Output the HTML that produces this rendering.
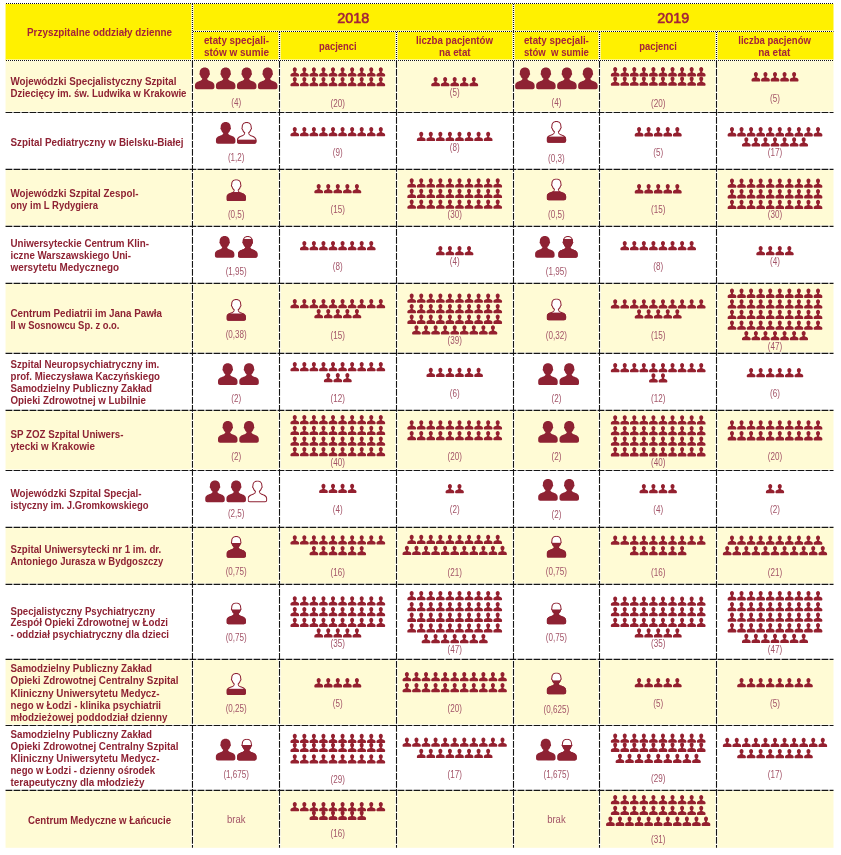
<!DOCTYPE html>
<html lang="pl"><head><meta charset="utf-8"><title>Przyszpitalne oddziały dzienne</title>
<style>html,body{margin:0;padding:0;background:#fff}body{width:841px;height:855px;overflow:hidden}svg{display:block}text{font-family:"Liberation Sans",sans-serif}.rl{font-size:11.3px;font-weight:bold;fill:#8e2233}.hd{font-size:11.2px;font-weight:bold;fill:#a3233a}.yr{font-size:14px;fill:#a3233a;stroke:#a3233a;stroke-width:0.55px}.lb{font-size:10px;fill:#a35468}.w{stroke:#fff;stroke-width:2.2;fill:none}.wh{stroke:#fff;stroke-width:1.6;fill:none}.d{stroke:#151515;stroke-width:1.1;stroke-dasharray:6.8 1.2;fill:none}.t{stroke:#111;stroke-width:1.1;stroke-dasharray:1 1;fill:none}</style></head><body>
<svg width="841" height="855" viewBox="0 0 841 855">
<defs><path id="p" d="M9.65 0C12.8 0 14.6 2.3 14.6 5.2C14.6 5.8 14.9 5.9 14.9 6.6C14.9 7.3 14.4 7.5 14.2 7.8C13.8 9.3 13 10.4 12.1 11.2C12.1 12.3 12.6 12.9 14 13.4C16.5 14.3 19.3 15.2 19.3 18.2L19.3 20.1C19.3 21.3 18.4 22.1 17.3 22.1L2 22.1C0.9 22.1 0 21.3 0 20.1L0 18.2C0 15.2 2.8 14.3 5.3 13.4C6.7 12.9 7.2 12.3 7.2 11.2C6.3 10.4 5.5 9.3 5.1 7.8C4.9 7.5 4.4 7.3 4.4 6.6C4.4 5.9 4.7 5.8 4.7 5.2C4.7 2.3 6.5 0 9.65 0Z"/><clipPath id="pc"><use href="#p"/></clipPath>
<path id="s" fill="#94202f" d="M4.35 0C5.5 0 6.35 0.95 6.35 2.25C6.35 3.3 5.85 4.1 5.3 4.6C5.3 5.25 5.65 5.5 6.4 5.75C7.65 6.2 8.7 6.7 8.7 7.9L8.7 8.6C8.7 9 8.4 9.3 8 9.3L0.7 9.3C0.3 9.3 0 9 0 8.6L0 7.9C0 6.7 1.05 6.2 2.3 5.75C3.05 5.5 3.4 5.25 3.4 4.6C2.85 4.1 2.35 3.3 2.35 2.25C2.35 0.95 3.2 0 4.35 0Z"/>
<g id="b" fill="#8e2233"><use href="#p" transform="scale(1.0104 0.9864)"/></g></defs>
<rect x="5.55" y="3.9" width="827.95" height="56.6" fill="#fff100"/>
<rect x="5.55" y="60.5" width="827.95" height="51.95" fill="#fffbd5"/>
<rect x="5.55" y="169.42" width="827.95" height="57" fill="#fffbd5"/>
<rect x="5.55" y="283.42" width="827.95" height="70" fill="#fffbd5"/>
<rect x="5.55" y="410.42" width="827.95" height="60.13" fill="#fffbd5"/>
<rect x="5.55" y="527.42" width="827.95" height="57" fill="#fffbd5"/>
<rect x="5.55" y="659.42" width="827.95" height="66.06" fill="#fffbd5"/>
<rect x="5.55" y="790.42" width="827.95" height="57.38" fill="#fffbd5"/>
<path class="w" d="M192.47 4V60 M513.5 4V60 M279.5 32V60 M396.5 32V60 M599.5 32V60 M716.5 32V60 M192.47 61V847.8 M279.5 61V847.8 M396.5 61V847.8 M513.5 61V847.8 M599.5 61V847.8 M716.5 61V847.8"/><path class="wh" transform="translate(0 -0.2)" d="M6 3.45H833.5 M193 31.45H833.5 M6 60.5H833.5 M5.55 112.45H833.5 M5.55 169.42H833.5 M5.55 226.42H833.5 M5.55 283.42H833.5 M5.55 353.42H833.5 M5.55 410.42H833.5 M5.55 470.55H833.5 M5.55 527.42H833.5 M5.55 584.42H833.5 M5.55 659.42H833.5 M5.55 725.48H833.5 M5.55 790.42H833.5"/>
<path class="t" d="M6 3.45H833.5 M193 31.45H833.5 M6 60.5H833.5"/><path class="t" d="M192.47 4V60 M513.5 4V60 M279.5 32V60 M396.5 32V60 M599.5 32V60 M716.5 32V60"/>
<path class="d" d="M5.55 112.45H833.5 M5.55 169.42H833.5 M5.55 226.42H833.5 M5.55 283.42H833.5 M5.55 353.42H833.5 M5.55 410.42H833.5 M5.55 470.55H833.5 M5.55 527.42H833.5 M5.55 584.42H833.5 M5.55 659.42H833.5 M5.55 725.48H833.5 M5.55 790.42H833.5"/><path class="d" d="M192.47 61V847.8 M279.5 61V847.8 M396.5 61V847.8 M513.5 61V847.8 M599.5 61V847.8 M716.5 61V847.8"/>
<text class="hd" style="font-size:11.8px" x="27" y="36.1" textLength="145" lengthAdjust="spacingAndGlyphs">Przyszpitalne oddziały dzienne</text>
<text class="yr" x="337.3" y="22.5" textLength="32" lengthAdjust="spacingAndGlyphs">2018</text>
<text class="yr" x="657.3" y="22.5" textLength="31.9" lengthAdjust="spacingAndGlyphs">2019</text>
<text class="hd" x="203.9" y="44" textLength="65.1" lengthAdjust="spacingAndGlyphs">etaty specjali-</text>
<text class="hd" x="203.9" y="55.6" textLength="65.1" lengthAdjust="spacingAndGlyphs">stów w sumie</text>
<text class="hd" x="319" y="49.7" textLength="37.5" lengthAdjust="spacingAndGlyphs">pacjenci</text>
<text class="hd" x="416" y="43.7" textLength="77" lengthAdjust="spacingAndGlyphs">liczba pacjentów</text>
<text class="hd" x="439" y="55.5" textLength="31.6" lengthAdjust="spacingAndGlyphs">na etat</text>
<text class="hd" x="523.9" y="44" textLength="65" lengthAdjust="spacingAndGlyphs">etaty specjali-</text>
<text class="hd" x="523.9" y="55.6" textLength="65" lengthAdjust="spacingAndGlyphs">stów  w sumie</text>
<text class="hd" x="639.2" y="49.7" textLength="37.7" lengthAdjust="spacingAndGlyphs">pacjenci</text>
<text class="hd" x="738.3" y="43.7" textLength="72.6" lengthAdjust="spacingAndGlyphs">liczba pacjenów</text>
<text class="hd" x="758.2" y="55.5" textLength="32.2" lengthAdjust="spacingAndGlyphs">na etat</text>
<text class="rl" x="10.5" y="85.35" textLength="166" lengthAdjust="spacingAndGlyphs">Wojewódzki Specjalistyczny Szpital</text>
<text class="rl" x="10.5" y="97.35" textLength="176" lengthAdjust="spacingAndGlyphs">Dziecięcy im. św. Ludwika w Krakowie</text>
<use href="#b" x="194.95" y="67.5"/>
<use href="#b" x="215.95" y="67.5"/>
<use href="#b" x="236.95" y="67.5"/>
<use href="#b" x="257.95" y="67.5"/>
<text class="lb" text-anchor="middle" transform="translate(236.2 106) scale(0.81 1)">(4)</text>
<use href="#s" x="290.43" y="67.2"/>
<use href="#s" x="299.99" y="67.2"/>
<use href="#s" x="309.55" y="67.2"/>
<use href="#s" x="319.11" y="67.2"/>
<use href="#s" x="328.67" y="67.2"/>
<use href="#s" x="338.23" y="67.2"/>
<use href="#s" x="347.79" y="67.2"/>
<use href="#s" x="357.35" y="67.2"/>
<use href="#s" x="366.91" y="67.2"/>
<use href="#s" x="376.47" y="67.2"/>
<use href="#s" x="290.43" y="77"/>
<use href="#s" x="299.99" y="77"/>
<use href="#s" x="309.55" y="77"/>
<use href="#s" x="319.11" y="77"/>
<use href="#s" x="328.67" y="77"/>
<use href="#s" x="338.23" y="77"/>
<use href="#s" x="347.79" y="77"/>
<use href="#s" x="357.35" y="77"/>
<use href="#s" x="366.91" y="77"/>
<use href="#s" x="376.47" y="77"/>
<text class="lb" text-anchor="middle" transform="translate(337.8 106.8) scale(0.81 1)">(20)</text>
<use href="#s" x="431.23" y="77"/>
<use href="#s" x="440.79" y="77"/>
<use href="#s" x="450.35" y="77"/>
<use href="#s" x="459.91" y="77"/>
<use href="#s" x="469.47" y="77"/>
<text class="lb" text-anchor="middle" transform="translate(454.7 95.8) scale(0.81 1)">(5)</text>
<use href="#b" x="515.15" y="67.5"/>
<use href="#b" x="536.15" y="67.5"/>
<use href="#b" x="557.15" y="67.5"/>
<use href="#b" x="578.15" y="67.5"/>
<text class="lb" text-anchor="middle" transform="translate(556.4 105.8) scale(0.81 1)">(4)</text>
<use href="#s" x="610.83" y="67.1"/>
<use href="#s" x="620.39" y="67.1"/>
<use href="#s" x="629.95" y="67.1"/>
<use href="#s" x="639.51" y="67.1"/>
<use href="#s" x="649.07" y="67.1"/>
<use href="#s" x="658.63" y="67.1"/>
<use href="#s" x="668.19" y="67.1"/>
<use href="#s" x="677.75" y="67.1"/>
<use href="#s" x="687.31" y="67.1"/>
<use href="#s" x="696.87" y="67.1"/>
<use href="#s" x="610.83" y="76.5"/>
<use href="#s" x="620.39" y="76.5"/>
<use href="#s" x="629.95" y="76.5"/>
<use href="#s" x="639.51" y="76.5"/>
<use href="#s" x="649.07" y="76.5"/>
<use href="#s" x="658.63" y="76.5"/>
<use href="#s" x="668.19" y="76.5"/>
<use href="#s" x="677.75" y="76.5"/>
<use href="#s" x="687.31" y="76.5"/>
<use href="#s" x="696.87" y="76.5"/>
<text class="lb" text-anchor="middle" transform="translate(658.2 106.7) scale(0.81 1)">(20)</text>
<use href="#s" x="751.53" y="72.1"/>
<use href="#s" x="761.09" y="72.1"/>
<use href="#s" x="770.65" y="72.1"/>
<use href="#s" x="780.21" y="72.1"/>
<use href="#s" x="789.77" y="72.1"/>
<text class="lb" text-anchor="middle" transform="translate(775 102) scale(0.81 1)">(5)</text>
<text class="rl" x="10.5" y="145.65" textLength="173" lengthAdjust="spacingAndGlyphs">Szpital Pediatryczny w Bielsku-Białej</text>
<use href="#b" x="215.95" y="122"/>
<g transform="translate(236.95 122) scale(1.0104 0.9864)" clip-path="url(#pc)"><use href="#p" fill="#fff"/><rect x="-1" y="17.9" width="22" height="5.2" fill="#8e2233"/><use href="#p" fill="none" stroke="#8e2233" stroke-width="2"/></g>
<text class="lb" text-anchor="middle" transform="translate(236.2 161) scale(0.81 1)">(1,2)</text>
<use href="#s" x="290.43" y="127"/>
<use href="#s" x="299.99" y="127"/>
<use href="#s" x="309.55" y="127"/>
<use href="#s" x="319.11" y="127"/>
<use href="#s" x="328.67" y="127"/>
<use href="#s" x="338.23" y="127"/>
<use href="#s" x="347.79" y="127"/>
<use href="#s" x="357.35" y="127"/>
<use href="#s" x="366.91" y="127"/>
<use href="#s" x="376.47" y="127"/>
<text class="lb" text-anchor="middle" transform="translate(337.8 156) scale(0.81 1)">(9)</text>
<use href="#s" x="416.89" y="131.8"/>
<use href="#s" x="426.45" y="131.8"/>
<use href="#s" x="436.01" y="131.8"/>
<use href="#s" x="445.57" y="131.8"/>
<use href="#s" x="455.13" y="131.8"/>
<use href="#s" x="464.69" y="131.8"/>
<use href="#s" x="474.25" y="131.8"/>
<use href="#s" x="483.81" y="131.8"/>
<text class="lb" text-anchor="middle" transform="translate(454.7 151.3) scale(0.81 1)">(8)</text>
<g transform="translate(546.65 121) scale(1.0104 0.9864)" clip-path="url(#pc)"><use href="#p" fill="#fff"/><rect x="-1" y="15.8" width="22" height="7.3" fill="#8e2233"/><use href="#p" fill="none" stroke="#8e2233" stroke-width="2"/></g>
<text class="lb" text-anchor="middle" transform="translate(556.4 161.9) scale(0.81 1)">(0,3)</text>
<use href="#s" x="634.73" y="127.1"/>
<use href="#s" x="644.29" y="127.1"/>
<use href="#s" x="653.85" y="127.1"/>
<use href="#s" x="663.41" y="127.1"/>
<use href="#s" x="672.97" y="127.1"/>
<text class="lb" text-anchor="middle" transform="translate(658.2 155.8) scale(0.81 1)">(5)</text>
<use href="#s" x="727.63" y="127.1"/>
<use href="#s" x="737.19" y="127.1"/>
<use href="#s" x="746.75" y="127.1"/>
<use href="#s" x="756.31" y="127.1"/>
<use href="#s" x="765.87" y="127.1"/>
<use href="#s" x="775.43" y="127.1"/>
<use href="#s" x="784.99" y="127.1"/>
<use href="#s" x="794.55" y="127.1"/>
<use href="#s" x="804.11" y="127.1"/>
<use href="#s" x="813.67" y="127.1"/>
<use href="#s" x="741.97" y="137.2"/>
<use href="#s" x="751.53" y="137.2"/>
<use href="#s" x="761.09" y="137.2"/>
<use href="#s" x="770.65" y="137.2"/>
<use href="#s" x="780.21" y="137.2"/>
<use href="#s" x="789.77" y="137.2"/>
<use href="#s" x="799.33" y="137.2"/>
<text class="lb" text-anchor="middle" transform="translate(775 155.8) scale(0.81 1)">(17)</text>
<text class="rl" x="10.5" y="196.65" textLength="127.9" lengthAdjust="spacingAndGlyphs">Wojewódzki Szpital Zespol-</text>
<text class="rl" x="10.5" y="208.65" textLength="87.5" lengthAdjust="spacingAndGlyphs">ony im L Rydygiera</text>
<g transform="translate(226.45 179.3) scale(1.0104 0.9864)" clip-path="url(#pc)"><use href="#p" fill="#fff"/><rect x="-1" y="12.9" width="22" height="10.2" fill="#8e2233"/><use href="#p" fill="none" stroke="#8e2233" stroke-width="2"/></g>
<text class="lb" text-anchor="middle" transform="translate(236.2 218) scale(0.81 1)">(0,5)</text>
<use href="#s" x="314.33" y="184"/>
<use href="#s" x="323.89" y="184"/>
<use href="#s" x="333.45" y="184"/>
<use href="#s" x="343.01" y="184"/>
<use href="#s" x="352.57" y="184"/>
<text class="lb" text-anchor="middle" transform="translate(337.8 213) scale(0.81 1)">(15)</text>
<use href="#s" x="407.33" y="178.3"/>
<use href="#s" x="416.89" y="178.3"/>
<use href="#s" x="426.45" y="178.3"/>
<use href="#s" x="436.01" y="178.3"/>
<use href="#s" x="445.57" y="178.3"/>
<use href="#s" x="455.13" y="178.3"/>
<use href="#s" x="464.69" y="178.3"/>
<use href="#s" x="474.25" y="178.3"/>
<use href="#s" x="483.81" y="178.3"/>
<use href="#s" x="493.37" y="178.3"/>
<use href="#s" x="407.33" y="188.8"/>
<use href="#s" x="416.89" y="188.8"/>
<use href="#s" x="426.45" y="188.8"/>
<use href="#s" x="436.01" y="188.8"/>
<use href="#s" x="445.57" y="188.8"/>
<use href="#s" x="455.13" y="188.8"/>
<use href="#s" x="464.69" y="188.8"/>
<use href="#s" x="474.25" y="188.8"/>
<use href="#s" x="483.81" y="188.8"/>
<use href="#s" x="493.37" y="188.8"/>
<use href="#s" x="407.33" y="199.5"/>
<use href="#s" x="416.89" y="199.5"/>
<use href="#s" x="426.45" y="199.5"/>
<use href="#s" x="436.01" y="199.5"/>
<use href="#s" x="445.57" y="199.5"/>
<use href="#s" x="455.13" y="199.5"/>
<use href="#s" x="464.69" y="199.5"/>
<use href="#s" x="474.25" y="199.5"/>
<use href="#s" x="483.81" y="199.5"/>
<use href="#s" x="493.37" y="199.5"/>
<text class="lb" text-anchor="middle" transform="translate(454.7 217.7) scale(0.81 1)">(30)</text>
<g transform="translate(546.65 178.5) scale(1.0104 0.9864)" clip-path="url(#pc)"><use href="#p" fill="#fff"/><rect x="-1" y="12.9" width="22" height="10.2" fill="#8e2233"/><use href="#p" fill="none" stroke="#8e2233" stroke-width="2"/></g>
<text class="lb" text-anchor="middle" transform="translate(556.4 217.8) scale(0.81 1)">(0,5)</text>
<use href="#s" x="634.73" y="184.1"/>
<use href="#s" x="644.29" y="184.1"/>
<use href="#s" x="653.85" y="184.1"/>
<use href="#s" x="663.41" y="184.1"/>
<use href="#s" x="672.97" y="184.1"/>
<text class="lb" text-anchor="middle" transform="translate(658.2 212.6) scale(0.81 1)">(15)</text>
<use href="#s" x="727.63" y="178.4"/>
<use href="#s" x="737.19" y="178.4"/>
<use href="#s" x="746.75" y="178.4"/>
<use href="#s" x="756.31" y="178.4"/>
<use href="#s" x="765.87" y="178.4"/>
<use href="#s" x="775.43" y="178.4"/>
<use href="#s" x="784.99" y="178.4"/>
<use href="#s" x="794.55" y="178.4"/>
<use href="#s" x="804.11" y="178.4"/>
<use href="#s" x="813.67" y="178.4"/>
<use href="#s" x="727.63" y="189.1"/>
<use href="#s" x="737.19" y="189.1"/>
<use href="#s" x="746.75" y="189.1"/>
<use href="#s" x="756.31" y="189.1"/>
<use href="#s" x="765.87" y="189.1"/>
<use href="#s" x="775.43" y="189.1"/>
<use href="#s" x="784.99" y="189.1"/>
<use href="#s" x="794.55" y="189.1"/>
<use href="#s" x="804.11" y="189.1"/>
<use href="#s" x="813.67" y="189.1"/>
<use href="#s" x="727.63" y="199.8"/>
<use href="#s" x="737.19" y="199.8"/>
<use href="#s" x="746.75" y="199.8"/>
<use href="#s" x="756.31" y="199.8"/>
<use href="#s" x="765.87" y="199.8"/>
<use href="#s" x="775.43" y="199.8"/>
<use href="#s" x="784.99" y="199.8"/>
<use href="#s" x="794.55" y="199.8"/>
<use href="#s" x="804.11" y="199.8"/>
<use href="#s" x="813.67" y="199.8"/>
<text class="lb" text-anchor="middle" transform="translate(775 217.8) scale(0.81 1)">(30)</text>
<text class="rl" x="10.5" y="247.35" textLength="138.5" lengthAdjust="spacingAndGlyphs">Uniwersyteckie Centrum Klin-</text>
<text class="rl" x="10.5" y="259.35" textLength="120.5" lengthAdjust="spacingAndGlyphs">iczne Warszawskiego Uni-</text>
<text class="rl" x="10.5" y="271.35" textLength="108.5" lengthAdjust="spacingAndGlyphs">wersytetu Medycznego</text>
<use href="#b" x="214.9" y="236"/>
<g transform="translate(238 236) scale(1.0104 0.9864)" clip-path="url(#pc)"><use href="#p" fill="#fff"/><rect x="-1" y="3" width="22" height="20.1" fill="#8e2233"/><use href="#p" fill="none" stroke="#8e2233" stroke-width="2"/></g>
<text class="lb" text-anchor="middle" transform="translate(236.2 274.8) scale(0.81 1)">(1,95)</text>
<use href="#s" x="299.99" y="241"/>
<use href="#s" x="309.55" y="241"/>
<use href="#s" x="319.11" y="241"/>
<use href="#s" x="328.67" y="241"/>
<use href="#s" x="338.23" y="241"/>
<use href="#s" x="347.79" y="241"/>
<use href="#s" x="357.35" y="241"/>
<use href="#s" x="366.91" y="241"/>
<text class="lb" text-anchor="middle" transform="translate(337.8 270) scale(0.81 1)">(8)</text>
<use href="#s" x="436.01" y="246"/>
<use href="#s" x="445.57" y="246"/>
<use href="#s" x="455.13" y="246"/>
<use href="#s" x="464.69" y="246"/>
<text class="lb" text-anchor="middle" transform="translate(454.7 265) scale(0.81 1)">(4)</text>
<use href="#b" x="535.1" y="236"/>
<g transform="translate(558.2 236) scale(1.0104 0.9864)" clip-path="url(#pc)"><use href="#p" fill="#fff"/><rect x="-1" y="3" width="22" height="20.1" fill="#8e2233"/><use href="#p" fill="none" stroke="#8e2233" stroke-width="2"/></g>
<text class="lb" text-anchor="middle" transform="translate(556.4 274.8) scale(0.81 1)">(1,95)</text>
<use href="#s" x="620.39" y="241"/>
<use href="#s" x="629.95" y="241"/>
<use href="#s" x="639.51" y="241"/>
<use href="#s" x="649.07" y="241"/>
<use href="#s" x="658.63" y="241"/>
<use href="#s" x="668.19" y="241"/>
<use href="#s" x="677.75" y="241"/>
<use href="#s" x="687.31" y="241"/>
<text class="lb" text-anchor="middle" transform="translate(658.2 269.7) scale(0.81 1)">(8)</text>
<use href="#s" x="756.31" y="246"/>
<use href="#s" x="765.87" y="246"/>
<use href="#s" x="775.43" y="246"/>
<use href="#s" x="784.99" y="246"/>
<text class="lb" text-anchor="middle" transform="translate(775 264.7) scale(0.81 1)">(4)</text>
<text class="rl" x="10.5" y="317.15" textLength="151.5" lengthAdjust="spacingAndGlyphs">Centrum Pediatrii im Jana Pawła</text>
<text class="rl" x="10.5" y="328.95" textLength="109" lengthAdjust="spacingAndGlyphs">II w Sosnowcu Sp. z o.o.</text>
<g transform="translate(226.45 299) scale(1.0104 0.9864)" clip-path="url(#pc)"><use href="#p" fill="#fff"/><rect x="-1" y="14.7" width="22" height="8.4" fill="#8e2233"/><use href="#p" fill="none" stroke="#8e2233" stroke-width="2"/></g>
<text class="lb" text-anchor="middle" transform="translate(236.2 337.6) scale(0.81 1)">(0,38)</text>
<use href="#s" x="290.43" y="299"/>
<use href="#s" x="299.99" y="299"/>
<use href="#s" x="309.55" y="299"/>
<use href="#s" x="319.11" y="299"/>
<use href="#s" x="328.67" y="299"/>
<use href="#s" x="338.23" y="299"/>
<use href="#s" x="347.79" y="299"/>
<use href="#s" x="357.35" y="299"/>
<use href="#s" x="366.91" y="299"/>
<use href="#s" x="376.47" y="299"/>
<use href="#s" x="314.33" y="309"/>
<use href="#s" x="323.89" y="309"/>
<use href="#s" x="333.45" y="309"/>
<use href="#s" x="343.01" y="309"/>
<use href="#s" x="352.57" y="309"/>
<text class="lb" text-anchor="middle" transform="translate(337.8 338.7) scale(0.81 1)">(15)</text>
<use href="#s" x="407.33" y="293.4"/>
<use href="#s" x="416.89" y="293.4"/>
<use href="#s" x="426.45" y="293.4"/>
<use href="#s" x="436.01" y="293.4"/>
<use href="#s" x="445.57" y="293.4"/>
<use href="#s" x="455.13" y="293.4"/>
<use href="#s" x="464.69" y="293.4"/>
<use href="#s" x="474.25" y="293.4"/>
<use href="#s" x="483.81" y="293.4"/>
<use href="#s" x="493.37" y="293.4"/>
<use href="#s" x="407.33" y="304"/>
<use href="#s" x="416.89" y="304"/>
<use href="#s" x="426.45" y="304"/>
<use href="#s" x="436.01" y="304"/>
<use href="#s" x="445.57" y="304"/>
<use href="#s" x="455.13" y="304"/>
<use href="#s" x="464.69" y="304"/>
<use href="#s" x="474.25" y="304"/>
<use href="#s" x="483.81" y="304"/>
<use href="#s" x="493.37" y="304"/>
<use href="#s" x="407.33" y="314.6"/>
<use href="#s" x="416.89" y="314.6"/>
<use href="#s" x="426.45" y="314.6"/>
<use href="#s" x="436.01" y="314.6"/>
<use href="#s" x="445.57" y="314.6"/>
<use href="#s" x="455.13" y="314.6"/>
<use href="#s" x="464.69" y="314.6"/>
<use href="#s" x="474.25" y="314.6"/>
<use href="#s" x="483.81" y="314.6"/>
<use href="#s" x="493.37" y="314.6"/>
<use href="#s" x="412.11" y="325.2"/>
<use href="#s" x="421.67" y="325.2"/>
<use href="#s" x="431.23" y="325.2"/>
<use href="#s" x="440.79" y="325.2"/>
<use href="#s" x="450.35" y="325.2"/>
<use href="#s" x="459.91" y="325.2"/>
<use href="#s" x="469.47" y="325.2"/>
<use href="#s" x="479.03" y="325.2"/>
<use href="#s" x="488.59" y="325.2"/>
<text class="lb" text-anchor="middle" transform="translate(454.7 343.7) scale(0.81 1)">(39)</text>
<g transform="translate(546.65 298.5) scale(1.0104 0.9864)" clip-path="url(#pc)"><use href="#p" fill="#fff"/><rect x="-1" y="14.3" width="22" height="8.8" fill="#8e2233"/><use href="#p" fill="none" stroke="#8e2233" stroke-width="2"/></g>
<text class="lb" text-anchor="middle" transform="translate(556.4 338.7) scale(0.81 1)">(0,32)</text>
<use href="#s" x="610.83" y="299.2"/>
<use href="#s" x="620.39" y="299.2"/>
<use href="#s" x="629.95" y="299.2"/>
<use href="#s" x="639.51" y="299.2"/>
<use href="#s" x="649.07" y="299.2"/>
<use href="#s" x="658.63" y="299.2"/>
<use href="#s" x="668.19" y="299.2"/>
<use href="#s" x="677.75" y="299.2"/>
<use href="#s" x="687.31" y="299.2"/>
<use href="#s" x="696.87" y="299.2"/>
<use href="#s" x="634.73" y="309.2"/>
<use href="#s" x="644.29" y="309.2"/>
<use href="#s" x="653.85" y="309.2"/>
<use href="#s" x="663.41" y="309.2"/>
<use href="#s" x="672.97" y="309.2"/>
<text class="lb" text-anchor="middle" transform="translate(658.2 338.7) scale(0.81 1)">(15)</text>
<use href="#s" x="727.63" y="288.6"/>
<use href="#s" x="737.19" y="288.6"/>
<use href="#s" x="746.75" y="288.6"/>
<use href="#s" x="756.31" y="288.6"/>
<use href="#s" x="765.87" y="288.6"/>
<use href="#s" x="775.43" y="288.6"/>
<use href="#s" x="784.99" y="288.6"/>
<use href="#s" x="794.55" y="288.6"/>
<use href="#s" x="804.11" y="288.6"/>
<use href="#s" x="813.67" y="288.6"/>
<use href="#s" x="727.63" y="299.2"/>
<use href="#s" x="737.19" y="299.2"/>
<use href="#s" x="746.75" y="299.2"/>
<use href="#s" x="756.31" y="299.2"/>
<use href="#s" x="765.87" y="299.2"/>
<use href="#s" x="775.43" y="299.2"/>
<use href="#s" x="784.99" y="299.2"/>
<use href="#s" x="794.55" y="299.2"/>
<use href="#s" x="804.11" y="299.2"/>
<use href="#s" x="813.67" y="299.2"/>
<use href="#s" x="727.63" y="309.8"/>
<use href="#s" x="737.19" y="309.8"/>
<use href="#s" x="746.75" y="309.8"/>
<use href="#s" x="756.31" y="309.8"/>
<use href="#s" x="765.87" y="309.8"/>
<use href="#s" x="775.43" y="309.8"/>
<use href="#s" x="784.99" y="309.8"/>
<use href="#s" x="794.55" y="309.8"/>
<use href="#s" x="804.11" y="309.8"/>
<use href="#s" x="813.67" y="309.8"/>
<use href="#s" x="727.63" y="320.4"/>
<use href="#s" x="737.19" y="320.4"/>
<use href="#s" x="746.75" y="320.4"/>
<use href="#s" x="756.31" y="320.4"/>
<use href="#s" x="765.87" y="320.4"/>
<use href="#s" x="775.43" y="320.4"/>
<use href="#s" x="784.99" y="320.4"/>
<use href="#s" x="794.55" y="320.4"/>
<use href="#s" x="804.11" y="320.4"/>
<use href="#s" x="813.67" y="320.4"/>
<use href="#s" x="741.97" y="331"/>
<use href="#s" x="751.53" y="331"/>
<use href="#s" x="761.09" y="331"/>
<use href="#s" x="770.65" y="331"/>
<use href="#s" x="780.21" y="331"/>
<use href="#s" x="789.77" y="331"/>
<use href="#s" x="799.33" y="331"/>
<text class="lb" text-anchor="middle" transform="translate(775 349.5) scale(0.81 1)">(47)</text>
<text class="rl" x="10.5" y="367.85" textLength="148.8" lengthAdjust="spacingAndGlyphs">Szpital Neuropsychiatryczny im.</text>
<text class="rl" x="10.5" y="379.85" textLength="149.5" lengthAdjust="spacingAndGlyphs">prof. Mieczysława Kaczyńskiego</text>
<text class="rl" x="10.5" y="391.85" textLength="141.5" lengthAdjust="spacingAndGlyphs">Samodzielny Publiczny Zakład</text>
<text class="rl" x="10.5" y="403.85" textLength="135.5" lengthAdjust="spacingAndGlyphs">Opieki Zdrowotnej w Lubilnie</text>
<use href="#b" x="218" y="363.2"/>
<use href="#b" x="239.3" y="363.2"/>
<text class="lb" text-anchor="middle" transform="translate(236.2 401.8) scale(0.81 1)">(2)</text>
<use href="#s" x="290.43" y="362"/>
<use href="#s" x="299.99" y="362"/>
<use href="#s" x="309.55" y="362"/>
<use href="#s" x="319.11" y="362"/>
<use href="#s" x="328.67" y="362"/>
<use href="#s" x="338.23" y="362"/>
<use href="#s" x="347.79" y="362"/>
<use href="#s" x="357.35" y="362"/>
<use href="#s" x="366.91" y="362"/>
<use href="#s" x="376.47" y="362"/>
<use href="#s" x="323.89" y="373"/>
<use href="#s" x="333.45" y="373"/>
<use href="#s" x="343.01" y="373"/>
<text class="lb" text-anchor="middle" transform="translate(337.8 401.8) scale(0.81 1)">(12)</text>
<use href="#s" x="426.45" y="367.7"/>
<use href="#s" x="436.01" y="367.7"/>
<use href="#s" x="445.57" y="367.7"/>
<use href="#s" x="455.13" y="367.7"/>
<use href="#s" x="464.69" y="367.7"/>
<use href="#s" x="474.25" y="367.7"/>
<text class="lb" text-anchor="middle" transform="translate(454.7 396.9) scale(0.81 1)">(6)</text>
<use href="#b" x="538.2" y="363.3"/>
<use href="#b" x="559.5" y="363.3"/>
<text class="lb" text-anchor="middle" transform="translate(556.4 401.7) scale(0.81 1)">(2)</text>
<use href="#s" x="610.83" y="362.9"/>
<use href="#s" x="620.39" y="362.9"/>
<use href="#s" x="629.95" y="362.9"/>
<use href="#s" x="639.51" y="362.9"/>
<use href="#s" x="649.07" y="362.9"/>
<use href="#s" x="658.63" y="362.9"/>
<use href="#s" x="668.19" y="362.9"/>
<use href="#s" x="677.75" y="362.9"/>
<use href="#s" x="687.31" y="362.9"/>
<use href="#s" x="696.87" y="362.9"/>
<use href="#s" x="649.07" y="373.2"/>
<use href="#s" x="658.63" y="373.2"/>
<text class="lb" text-anchor="middle" transform="translate(658.2 401.9) scale(0.81 1)">(12)</text>
<use href="#s" x="746.75" y="367.9"/>
<use href="#s" x="756.31" y="367.9"/>
<use href="#s" x="765.87" y="367.9"/>
<use href="#s" x="775.43" y="367.9"/>
<use href="#s" x="784.99" y="367.9"/>
<use href="#s" x="794.55" y="367.9"/>
<text class="lb" text-anchor="middle" transform="translate(775 396.6) scale(0.81 1)">(6)</text>
<text class="rl" x="10.5" y="438.35" textLength="113" lengthAdjust="spacingAndGlyphs">SP ZOZ Szpital Uniwers-</text>
<text class="rl" x="10.5" y="450.35" textLength="84.5" lengthAdjust="spacingAndGlyphs">ytecki w Krakowie</text>
<use href="#b" x="218" y="421"/>
<use href="#b" x="239.3" y="421"/>
<text class="lb" text-anchor="middle" transform="translate(236.2 459.7) scale(0.81 1)">(2)</text>
<use href="#s" x="290.43" y="415"/>
<use href="#s" x="299.99" y="415"/>
<use href="#s" x="309.55" y="415"/>
<use href="#s" x="319.11" y="415"/>
<use href="#s" x="328.67" y="415"/>
<use href="#s" x="338.23" y="415"/>
<use href="#s" x="347.79" y="415"/>
<use href="#s" x="357.35" y="415"/>
<use href="#s" x="366.91" y="415"/>
<use href="#s" x="376.47" y="415"/>
<use href="#s" x="290.43" y="425.8"/>
<use href="#s" x="299.99" y="425.8"/>
<use href="#s" x="309.55" y="425.8"/>
<use href="#s" x="319.11" y="425.8"/>
<use href="#s" x="328.67" y="425.8"/>
<use href="#s" x="338.23" y="425.8"/>
<use href="#s" x="347.79" y="425.8"/>
<use href="#s" x="357.35" y="425.8"/>
<use href="#s" x="366.91" y="425.8"/>
<use href="#s" x="376.47" y="425.8"/>
<use href="#s" x="290.43" y="436.4"/>
<use href="#s" x="299.99" y="436.4"/>
<use href="#s" x="309.55" y="436.4"/>
<use href="#s" x="319.11" y="436.4"/>
<use href="#s" x="328.67" y="436.4"/>
<use href="#s" x="338.23" y="436.4"/>
<use href="#s" x="347.79" y="436.4"/>
<use href="#s" x="357.35" y="436.4"/>
<use href="#s" x="366.91" y="436.4"/>
<use href="#s" x="376.47" y="436.4"/>
<use href="#s" x="290.43" y="447"/>
<use href="#s" x="299.99" y="447"/>
<use href="#s" x="309.55" y="447"/>
<use href="#s" x="319.11" y="447"/>
<use href="#s" x="328.67" y="447"/>
<use href="#s" x="338.23" y="447"/>
<use href="#s" x="347.79" y="447"/>
<use href="#s" x="357.35" y="447"/>
<use href="#s" x="366.91" y="447"/>
<use href="#s" x="376.47" y="447"/>
<text class="lb" text-anchor="middle" transform="translate(337.8 466) scale(0.81 1)">(40)</text>
<use href="#s" x="407.33" y="420.2"/>
<use href="#s" x="416.89" y="420.2"/>
<use href="#s" x="426.45" y="420.2"/>
<use href="#s" x="436.01" y="420.2"/>
<use href="#s" x="445.57" y="420.2"/>
<use href="#s" x="455.13" y="420.2"/>
<use href="#s" x="464.69" y="420.2"/>
<use href="#s" x="474.25" y="420.2"/>
<use href="#s" x="483.81" y="420.2"/>
<use href="#s" x="493.37" y="420.2"/>
<use href="#s" x="407.33" y="431"/>
<use href="#s" x="416.89" y="431"/>
<use href="#s" x="426.45" y="431"/>
<use href="#s" x="436.01" y="431"/>
<use href="#s" x="445.57" y="431"/>
<use href="#s" x="455.13" y="431"/>
<use href="#s" x="464.69" y="431"/>
<use href="#s" x="474.25" y="431"/>
<use href="#s" x="483.81" y="431"/>
<use href="#s" x="493.37" y="431"/>
<text class="lb" text-anchor="middle" transform="translate(454.7 459.8) scale(0.81 1)">(20)</text>
<use href="#b" x="538.2" y="421"/>
<use href="#b" x="559.5" y="421"/>
<text class="lb" text-anchor="middle" transform="translate(556.4 459.8) scale(0.81 1)">(2)</text>
<use href="#s" x="610.83" y="415.3"/>
<use href="#s" x="620.39" y="415.3"/>
<use href="#s" x="629.95" y="415.3"/>
<use href="#s" x="639.51" y="415.3"/>
<use href="#s" x="649.07" y="415.3"/>
<use href="#s" x="658.63" y="415.3"/>
<use href="#s" x="668.19" y="415.3"/>
<use href="#s" x="677.75" y="415.3"/>
<use href="#s" x="687.31" y="415.3"/>
<use href="#s" x="696.87" y="415.3"/>
<use href="#s" x="610.83" y="425.9"/>
<use href="#s" x="620.39" y="425.9"/>
<use href="#s" x="629.95" y="425.9"/>
<use href="#s" x="639.51" y="425.9"/>
<use href="#s" x="649.07" y="425.9"/>
<use href="#s" x="658.63" y="425.9"/>
<use href="#s" x="668.19" y="425.9"/>
<use href="#s" x="677.75" y="425.9"/>
<use href="#s" x="687.31" y="425.9"/>
<use href="#s" x="696.87" y="425.9"/>
<use href="#s" x="610.83" y="436.5"/>
<use href="#s" x="620.39" y="436.5"/>
<use href="#s" x="629.95" y="436.5"/>
<use href="#s" x="639.51" y="436.5"/>
<use href="#s" x="649.07" y="436.5"/>
<use href="#s" x="658.63" y="436.5"/>
<use href="#s" x="668.19" y="436.5"/>
<use href="#s" x="677.75" y="436.5"/>
<use href="#s" x="687.31" y="436.5"/>
<use href="#s" x="696.87" y="436.5"/>
<use href="#s" x="610.83" y="447.1"/>
<use href="#s" x="620.39" y="447.1"/>
<use href="#s" x="629.95" y="447.1"/>
<use href="#s" x="639.51" y="447.1"/>
<use href="#s" x="649.07" y="447.1"/>
<use href="#s" x="658.63" y="447.1"/>
<use href="#s" x="668.19" y="447.1"/>
<use href="#s" x="677.75" y="447.1"/>
<use href="#s" x="687.31" y="447.1"/>
<use href="#s" x="696.87" y="447.1"/>
<text class="lb" text-anchor="middle" transform="translate(658.2 466) scale(0.81 1)">(40)</text>
<use href="#s" x="727.63" y="420.3"/>
<use href="#s" x="737.19" y="420.3"/>
<use href="#s" x="746.75" y="420.3"/>
<use href="#s" x="756.31" y="420.3"/>
<use href="#s" x="765.87" y="420.3"/>
<use href="#s" x="775.43" y="420.3"/>
<use href="#s" x="784.99" y="420.3"/>
<use href="#s" x="794.55" y="420.3"/>
<use href="#s" x="804.11" y="420.3"/>
<use href="#s" x="813.67" y="420.3"/>
<use href="#s" x="727.63" y="431.1"/>
<use href="#s" x="737.19" y="431.1"/>
<use href="#s" x="746.75" y="431.1"/>
<use href="#s" x="756.31" y="431.1"/>
<use href="#s" x="765.87" y="431.1"/>
<use href="#s" x="775.43" y="431.1"/>
<use href="#s" x="784.99" y="431.1"/>
<use href="#s" x="794.55" y="431.1"/>
<use href="#s" x="804.11" y="431.1"/>
<use href="#s" x="813.67" y="431.1"/>
<text class="lb" text-anchor="middle" transform="translate(775 459.9) scale(0.81 1)">(20)</text>
<text class="rl" x="10.5" y="496.65" textLength="131" lengthAdjust="spacingAndGlyphs">Wojewódzki Szpital Specjal-</text>
<text class="rl" x="10.5" y="508.65" textLength="138" lengthAdjust="spacingAndGlyphs">istyczny im. J.Gromkowskiego</text>
<use href="#b" x="205.25" y="480.5"/>
<use href="#b" x="226.45" y="480.5"/>
<g transform="translate(247.65 480.5) scale(1.0104 0.9864)" clip-path="url(#pc)"><use href="#p" fill="#fff"/><use href="#p" fill="none" stroke="#8e2233" stroke-width="2"/></g>
<text class="lb" text-anchor="middle" transform="translate(236.2 516.5) scale(0.81 1)">(2,5)</text>
<use href="#s" x="319.11" y="483.7"/>
<use href="#s" x="328.67" y="483.7"/>
<use href="#s" x="338.23" y="483.7"/>
<use href="#s" x="347.79" y="483.7"/>
<text class="lb" text-anchor="middle" transform="translate(337.8 513) scale(0.81 1)">(4)</text>
<use href="#s" x="445.57" y="484"/>
<use href="#s" x="455.13" y="484"/>
<text class="lb" text-anchor="middle" transform="translate(454.7 512.7) scale(0.81 1)">(2)</text>
<use href="#b" x="538.2" y="479"/>
<use href="#b" x="559.5" y="479"/>
<text class="lb" text-anchor="middle" transform="translate(556.4 517.7) scale(0.81 1)">(2)</text>
<use href="#s" x="639.51" y="484"/>
<use href="#s" x="649.07" y="484"/>
<use href="#s" x="658.63" y="484"/>
<use href="#s" x="668.19" y="484"/>
<text class="lb" text-anchor="middle" transform="translate(658.2 512.8) scale(0.81 1)">(4)</text>
<use href="#s" x="765.87" y="484"/>
<use href="#s" x="775.43" y="484"/>
<text class="lb" text-anchor="middle" transform="translate(775 512.8) scale(0.81 1)">(2)</text>
<text class="rl" x="10.5" y="553.35" textLength="150.8" lengthAdjust="spacingAndGlyphs">Szpital Uniwersytecki nr 1 im. dr.</text>
<text class="rl" x="10.5" y="565.35" textLength="152.8" lengthAdjust="spacingAndGlyphs">Antoniego Jurasza w Bydgoszczy</text>
<g transform="translate(226.45 536) scale(1.0104 0.9864)" clip-path="url(#pc)"><use href="#p" fill="#fff"/><rect x="-1" y="7.1" width="22" height="16" fill="#8e2233"/><use href="#p" fill="none" stroke="#8e2233" stroke-width="2"/></g>
<text class="lb" text-anchor="middle" transform="translate(236.2 575) scale(0.81 1)">(0,75)</text>
<use href="#s" x="290.43" y="535.2"/>
<use href="#s" x="299.99" y="535.2"/>
<use href="#s" x="309.55" y="535.2"/>
<use href="#s" x="319.11" y="535.2"/>
<use href="#s" x="328.67" y="535.2"/>
<use href="#s" x="338.23" y="535.2"/>
<use href="#s" x="347.79" y="535.2"/>
<use href="#s" x="357.35" y="535.2"/>
<use href="#s" x="366.91" y="535.2"/>
<use href="#s" x="376.47" y="535.2"/>
<use href="#s" x="309.55" y="546"/>
<use href="#s" x="319.11" y="546"/>
<use href="#s" x="328.67" y="546"/>
<use href="#s" x="338.23" y="546"/>
<use href="#s" x="347.79" y="546"/>
<use href="#s" x="357.35" y="546"/>
<text class="lb" text-anchor="middle" transform="translate(337.8 575.7) scale(0.81 1)">(16)</text>
<use href="#s" x="407.33" y="534.8"/>
<use href="#s" x="416.89" y="534.8"/>
<use href="#s" x="426.45" y="534.8"/>
<use href="#s" x="436.01" y="534.8"/>
<use href="#s" x="445.57" y="534.8"/>
<use href="#s" x="455.13" y="534.8"/>
<use href="#s" x="464.69" y="534.8"/>
<use href="#s" x="474.25" y="534.8"/>
<use href="#s" x="483.81" y="534.8"/>
<use href="#s" x="493.37" y="534.8"/>
<use href="#s" x="402.55" y="545.8"/>
<use href="#s" x="412.11" y="545.8"/>
<use href="#s" x="421.67" y="545.8"/>
<use href="#s" x="431.23" y="545.8"/>
<use href="#s" x="440.79" y="545.8"/>
<use href="#s" x="450.35" y="545.8"/>
<use href="#s" x="459.91" y="545.8"/>
<use href="#s" x="469.47" y="545.8"/>
<use href="#s" x="479.03" y="545.8"/>
<use href="#s" x="488.59" y="545.8"/>
<use href="#s" x="498.15" y="545.8"/>
<text class="lb" text-anchor="middle" transform="translate(454.7 575.7) scale(0.81 1)">(21)</text>
<g transform="translate(546.65 535.8) scale(1.0104 0.9864)" clip-path="url(#pc)"><use href="#p" fill="#fff"/><rect x="-1" y="7.1" width="22" height="16" fill="#8e2233"/><use href="#p" fill="none" stroke="#8e2233" stroke-width="2"/></g>
<text class="lb" text-anchor="middle" transform="translate(556.4 575) scale(0.81 1)">(0,75)</text>
<use href="#s" x="610.83" y="535.5"/>
<use href="#s" x="620.39" y="535.5"/>
<use href="#s" x="629.95" y="535.5"/>
<use href="#s" x="639.51" y="535.5"/>
<use href="#s" x="649.07" y="535.5"/>
<use href="#s" x="658.63" y="535.5"/>
<use href="#s" x="668.19" y="535.5"/>
<use href="#s" x="677.75" y="535.5"/>
<use href="#s" x="687.31" y="535.5"/>
<use href="#s" x="696.87" y="535.5"/>
<use href="#s" x="629.95" y="546"/>
<use href="#s" x="639.51" y="546"/>
<use href="#s" x="649.07" y="546"/>
<use href="#s" x="658.63" y="546"/>
<use href="#s" x="668.19" y="546"/>
<use href="#s" x="677.75" y="546"/>
<text class="lb" text-anchor="middle" transform="translate(658.2 575.7) scale(0.81 1)">(16)</text>
<use href="#s" x="727.63" y="535.5"/>
<use href="#s" x="737.19" y="535.5"/>
<use href="#s" x="746.75" y="535.5"/>
<use href="#s" x="756.31" y="535.5"/>
<use href="#s" x="765.87" y="535.5"/>
<use href="#s" x="775.43" y="535.5"/>
<use href="#s" x="784.99" y="535.5"/>
<use href="#s" x="794.55" y="535.5"/>
<use href="#s" x="804.11" y="535.5"/>
<use href="#s" x="813.67" y="535.5"/>
<use href="#s" x="722.85" y="546"/>
<use href="#s" x="732.41" y="546"/>
<use href="#s" x="741.97" y="546"/>
<use href="#s" x="751.53" y="546"/>
<use href="#s" x="761.09" y="546"/>
<use href="#s" x="770.65" y="546"/>
<use href="#s" x="780.21" y="546"/>
<use href="#s" x="789.77" y="546"/>
<use href="#s" x="799.33" y="546"/>
<use href="#s" x="808.89" y="546"/>
<use href="#s" x="818.45" y="546"/>
<text class="lb" text-anchor="middle" transform="translate(775 575.7) scale(0.81 1)">(21)</text>
<text class="rl" x="10.5" y="614.55" textLength="144.5" lengthAdjust="spacingAndGlyphs">Specjalistyczny Psychiatryczny</text>
<text class="rl" x="10.5" y="626.35" textLength="157.5" lengthAdjust="spacingAndGlyphs">Zespół Opieki Zdrowotnej w Łodzi</text>
<text class="rl" x="10.5" y="638.15" textLength="158.5" lengthAdjust="spacingAndGlyphs">- oddział psychiatryczny dla dzieci</text>
<g transform="translate(226.45 602.5) scale(1.0104 0.9864)" clip-path="url(#pc)"><use href="#p" fill="#fff"/><rect x="-1" y="7.1" width="22" height="16" fill="#8e2233"/><use href="#p" fill="none" stroke="#8e2233" stroke-width="2"/></g>
<text class="lb" text-anchor="middle" transform="translate(236.2 640.6) scale(0.81 1)">(0,75)</text>
<use href="#s" x="290.43" y="596.2"/>
<use href="#s" x="299.99" y="596.2"/>
<use href="#s" x="309.55" y="596.2"/>
<use href="#s" x="319.11" y="596.2"/>
<use href="#s" x="328.67" y="596.2"/>
<use href="#s" x="338.23" y="596.2"/>
<use href="#s" x="347.79" y="596.2"/>
<use href="#s" x="357.35" y="596.2"/>
<use href="#s" x="366.91" y="596.2"/>
<use href="#s" x="376.47" y="596.2"/>
<use href="#s" x="290.43" y="607"/>
<use href="#s" x="299.99" y="607"/>
<use href="#s" x="309.55" y="607"/>
<use href="#s" x="319.11" y="607"/>
<use href="#s" x="328.67" y="607"/>
<use href="#s" x="338.23" y="607"/>
<use href="#s" x="347.79" y="607"/>
<use href="#s" x="357.35" y="607"/>
<use href="#s" x="366.91" y="607"/>
<use href="#s" x="376.47" y="607"/>
<use href="#s" x="290.43" y="617.7"/>
<use href="#s" x="299.99" y="617.7"/>
<use href="#s" x="309.55" y="617.7"/>
<use href="#s" x="319.11" y="617.7"/>
<use href="#s" x="328.67" y="617.7"/>
<use href="#s" x="338.23" y="617.7"/>
<use href="#s" x="347.79" y="617.7"/>
<use href="#s" x="357.35" y="617.7"/>
<use href="#s" x="366.91" y="617.7"/>
<use href="#s" x="376.47" y="617.7"/>
<use href="#s" x="314.33" y="628.3"/>
<use href="#s" x="323.89" y="628.3"/>
<use href="#s" x="333.45" y="628.3"/>
<use href="#s" x="343.01" y="628.3"/>
<use href="#s" x="352.57" y="628.3"/>
<text class="lb" text-anchor="middle" transform="translate(337.8 646.8) scale(0.81 1)">(35)</text>
<use href="#s" x="407.33" y="591"/>
<use href="#s" x="416.89" y="591"/>
<use href="#s" x="426.45" y="591"/>
<use href="#s" x="436.01" y="591"/>
<use href="#s" x="445.57" y="591"/>
<use href="#s" x="455.13" y="591"/>
<use href="#s" x="464.69" y="591"/>
<use href="#s" x="474.25" y="591"/>
<use href="#s" x="483.81" y="591"/>
<use href="#s" x="493.37" y="591"/>
<use href="#s" x="407.33" y="601.9"/>
<use href="#s" x="416.89" y="601.9"/>
<use href="#s" x="426.45" y="601.9"/>
<use href="#s" x="436.01" y="601.9"/>
<use href="#s" x="445.57" y="601.9"/>
<use href="#s" x="455.13" y="601.9"/>
<use href="#s" x="464.69" y="601.9"/>
<use href="#s" x="474.25" y="601.9"/>
<use href="#s" x="483.81" y="601.9"/>
<use href="#s" x="493.37" y="601.9"/>
<use href="#s" x="407.33" y="612.6"/>
<use href="#s" x="416.89" y="612.6"/>
<use href="#s" x="426.45" y="612.6"/>
<use href="#s" x="436.01" y="612.6"/>
<use href="#s" x="445.57" y="612.6"/>
<use href="#s" x="455.13" y="612.6"/>
<use href="#s" x="464.69" y="612.6"/>
<use href="#s" x="474.25" y="612.6"/>
<use href="#s" x="483.81" y="612.6"/>
<use href="#s" x="493.37" y="612.6"/>
<use href="#s" x="407.33" y="623.3"/>
<use href="#s" x="416.89" y="623.3"/>
<use href="#s" x="426.45" y="623.3"/>
<use href="#s" x="436.01" y="623.3"/>
<use href="#s" x="445.57" y="623.3"/>
<use href="#s" x="455.13" y="623.3"/>
<use href="#s" x="464.69" y="623.3"/>
<use href="#s" x="474.25" y="623.3"/>
<use href="#s" x="483.81" y="623.3"/>
<use href="#s" x="493.37" y="623.3"/>
<use href="#s" x="421.67" y="634"/>
<use href="#s" x="431.23" y="634"/>
<use href="#s" x="440.79" y="634"/>
<use href="#s" x="450.35" y="634"/>
<use href="#s" x="459.91" y="634"/>
<use href="#s" x="469.47" y="634"/>
<use href="#s" x="479.03" y="634"/>
<text class="lb" text-anchor="middle" transform="translate(454.7 652.8) scale(0.81 1)">(47)</text>
<g transform="translate(546.65 602.5) scale(1.0104 0.9864)" clip-path="url(#pc)"><use href="#p" fill="#fff"/><rect x="-1" y="7.1" width="22" height="16" fill="#8e2233"/><use href="#p" fill="none" stroke="#8e2233" stroke-width="2"/></g>
<text class="lb" text-anchor="middle" transform="translate(556.4 640.5) scale(0.81 1)">(0,75)</text>
<use href="#s" x="610.83" y="596.4"/>
<use href="#s" x="620.39" y="596.4"/>
<use href="#s" x="629.95" y="596.4"/>
<use href="#s" x="639.51" y="596.4"/>
<use href="#s" x="649.07" y="596.4"/>
<use href="#s" x="658.63" y="596.4"/>
<use href="#s" x="668.19" y="596.4"/>
<use href="#s" x="677.75" y="596.4"/>
<use href="#s" x="687.31" y="596.4"/>
<use href="#s" x="696.87" y="596.4"/>
<use href="#s" x="610.83" y="607"/>
<use href="#s" x="620.39" y="607"/>
<use href="#s" x="629.95" y="607"/>
<use href="#s" x="639.51" y="607"/>
<use href="#s" x="649.07" y="607"/>
<use href="#s" x="658.63" y="607"/>
<use href="#s" x="668.19" y="607"/>
<use href="#s" x="677.75" y="607"/>
<use href="#s" x="687.31" y="607"/>
<use href="#s" x="696.87" y="607"/>
<use href="#s" x="610.83" y="617.7"/>
<use href="#s" x="620.39" y="617.7"/>
<use href="#s" x="629.95" y="617.7"/>
<use href="#s" x="639.51" y="617.7"/>
<use href="#s" x="649.07" y="617.7"/>
<use href="#s" x="658.63" y="617.7"/>
<use href="#s" x="668.19" y="617.7"/>
<use href="#s" x="677.75" y="617.7"/>
<use href="#s" x="687.31" y="617.7"/>
<use href="#s" x="696.87" y="617.7"/>
<use href="#s" x="634.73" y="628.3"/>
<use href="#s" x="644.29" y="628.3"/>
<use href="#s" x="653.85" y="628.3"/>
<use href="#s" x="663.41" y="628.3"/>
<use href="#s" x="672.97" y="628.3"/>
<text class="lb" text-anchor="middle" transform="translate(658.2 646.8) scale(0.81 1)">(35)</text>
<use href="#s" x="727.63" y="591.1"/>
<use href="#s" x="737.19" y="591.1"/>
<use href="#s" x="746.75" y="591.1"/>
<use href="#s" x="756.31" y="591.1"/>
<use href="#s" x="765.87" y="591.1"/>
<use href="#s" x="775.43" y="591.1"/>
<use href="#s" x="784.99" y="591.1"/>
<use href="#s" x="794.55" y="591.1"/>
<use href="#s" x="804.11" y="591.1"/>
<use href="#s" x="813.67" y="591.1"/>
<use href="#s" x="727.63" y="601.9"/>
<use href="#s" x="737.19" y="601.9"/>
<use href="#s" x="746.75" y="601.9"/>
<use href="#s" x="756.31" y="601.9"/>
<use href="#s" x="765.87" y="601.9"/>
<use href="#s" x="775.43" y="601.9"/>
<use href="#s" x="784.99" y="601.9"/>
<use href="#s" x="794.55" y="601.9"/>
<use href="#s" x="804.11" y="601.9"/>
<use href="#s" x="813.67" y="601.9"/>
<use href="#s" x="727.63" y="612.5"/>
<use href="#s" x="737.19" y="612.5"/>
<use href="#s" x="746.75" y="612.5"/>
<use href="#s" x="756.31" y="612.5"/>
<use href="#s" x="765.87" y="612.5"/>
<use href="#s" x="775.43" y="612.5"/>
<use href="#s" x="784.99" y="612.5"/>
<use href="#s" x="794.55" y="612.5"/>
<use href="#s" x="804.11" y="612.5"/>
<use href="#s" x="813.67" y="612.5"/>
<use href="#s" x="727.63" y="623.1"/>
<use href="#s" x="737.19" y="623.1"/>
<use href="#s" x="746.75" y="623.1"/>
<use href="#s" x="756.31" y="623.1"/>
<use href="#s" x="765.87" y="623.1"/>
<use href="#s" x="775.43" y="623.1"/>
<use href="#s" x="784.99" y="623.1"/>
<use href="#s" x="794.55" y="623.1"/>
<use href="#s" x="804.11" y="623.1"/>
<use href="#s" x="813.67" y="623.1"/>
<use href="#s" x="741.97" y="633.8"/>
<use href="#s" x="751.53" y="633.8"/>
<use href="#s" x="761.09" y="633.8"/>
<use href="#s" x="770.65" y="633.8"/>
<use href="#s" x="780.21" y="633.8"/>
<use href="#s" x="789.77" y="633.8"/>
<use href="#s" x="799.33" y="633.8"/>
<text class="lb" text-anchor="middle" transform="translate(775 653.2) scale(0.81 1)">(47)</text>
<text class="rl" x="10.5" y="671.55" textLength="141.5" lengthAdjust="spacingAndGlyphs">Samodzielny Publiczny Zakład</text>
<text class="rl" x="10.5" y="683.85" textLength="168" lengthAdjust="spacingAndGlyphs">Opieki Zdrowotnej Centralny Szpital</text>
<text class="rl" x="10.5" y="696.55" textLength="149" lengthAdjust="spacingAndGlyphs">Kliniczny Uniwersytetu Medycz-</text>
<text class="rl" x="10.5" y="708.95" textLength="150.5" lengthAdjust="spacingAndGlyphs">nego w Łodzi - klinika psychiatrii</text>
<text class="rl" x="10.5" y="720.85" textLength="157" lengthAdjust="spacingAndGlyphs">młodzieżowej poddodział dzienny</text>
<g transform="translate(226.45 673.1) scale(1.0104 0.9864)" clip-path="url(#pc)"><use href="#p" fill="#fff"/><rect x="-1" y="15.9" width="22" height="7.2" fill="#8e2233"/><use href="#p" fill="none" stroke="#8e2233" stroke-width="2"/></g>
<text class="lb" text-anchor="middle" transform="translate(236.2 711.7) scale(0.81 1)">(0,25)</text>
<use href="#s" x="314.33" y="678.1"/>
<use href="#s" x="323.89" y="678.1"/>
<use href="#s" x="333.45" y="678.1"/>
<use href="#s" x="343.01" y="678.1"/>
<use href="#s" x="352.57" y="678.1"/>
<text class="lb" text-anchor="middle" transform="translate(337.8 707) scale(0.81 1)">(5)</text>
<use href="#s" x="402.55" y="672"/>
<use href="#s" x="412.11" y="672"/>
<use href="#s" x="421.67" y="672"/>
<use href="#s" x="431.23" y="672"/>
<use href="#s" x="440.79" y="672"/>
<use href="#s" x="450.35" y="672"/>
<use href="#s" x="459.91" y="672"/>
<use href="#s" x="469.47" y="672"/>
<use href="#s" x="479.03" y="672"/>
<use href="#s" x="488.59" y="672"/>
<use href="#s" x="498.15" y="672"/>
<use href="#s" x="402.55" y="683"/>
<use href="#s" x="412.11" y="683"/>
<use href="#s" x="421.67" y="683"/>
<use href="#s" x="431.23" y="683"/>
<use href="#s" x="440.79" y="683"/>
<use href="#s" x="450.35" y="683"/>
<use href="#s" x="459.91" y="683"/>
<use href="#s" x="469.47" y="683"/>
<use href="#s" x="479.03" y="683"/>
<use href="#s" x="488.59" y="683"/>
<use href="#s" x="498.15" y="683"/>
<text class="lb" text-anchor="middle" transform="translate(454.7 711.7) scale(0.81 1)">(20)</text>
<g transform="translate(546.65 672.4) scale(1.0104 0.9864)" clip-path="url(#pc)"><use href="#p" fill="#fff"/><rect x="-1" y="8.1" width="22" height="15" fill="#8e2233"/><use href="#p" fill="none" stroke="#8e2233" stroke-width="2"/></g>
<text class="lb" text-anchor="middle" transform="translate(556.4 713) scale(0.81 1)">(0,625)</text>
<use href="#s" x="634.73" y="678"/>
<use href="#s" x="644.29" y="678"/>
<use href="#s" x="653.85" y="678"/>
<use href="#s" x="663.41" y="678"/>
<use href="#s" x="672.97" y="678"/>
<text class="lb" text-anchor="middle" transform="translate(658.2 706.7) scale(0.81 1)">(5)</text>
<use href="#s" x="737.19" y="678"/>
<use href="#s" x="746.75" y="678"/>
<use href="#s" x="756.31" y="678"/>
<use href="#s" x="765.87" y="678"/>
<use href="#s" x="775.43" y="678"/>
<use href="#s" x="784.99" y="678"/>
<use href="#s" x="794.55" y="678"/>
<use href="#s" x="804.11" y="678"/>
<text class="lb" text-anchor="middle" transform="translate(775 706.7) scale(0.81 1)">(5)</text>
<text class="rl" x="10.5" y="737.85" textLength="141.5" lengthAdjust="spacingAndGlyphs">Samodzielny Publiczny Zakład</text>
<text class="rl" x="10.5" y="750.15" textLength="168" lengthAdjust="spacingAndGlyphs">Opieki Zdrowotnej Centralny Szpital</text>
<text class="rl" x="10.5" y="762.15" textLength="149" lengthAdjust="spacingAndGlyphs">Kliniczny Uniwersytetu Medycz-</text>
<text class="rl" x="10.5" y="774.15" textLength="144.5" lengthAdjust="spacingAndGlyphs">nego w Łodzi - dzienny ośrodek</text>
<text class="rl" x="10.5" y="786.35" textLength="134" lengthAdjust="spacingAndGlyphs">terapeutyczny dla młodzieży</text>
<use href="#b" x="215.85" y="738.7"/>
<g transform="translate(237.05 738.7) scale(1.0104 0.9864)" clip-path="url(#pc)"><use href="#p" fill="#fff"/><rect x="-1" y="6.4" width="22" height="16.7" fill="#8e2233"/><use href="#p" fill="none" stroke="#8e2233" stroke-width="2"/></g>
<text class="lb" text-anchor="middle" transform="translate(236.2 778) scale(0.81 1)">(1,675)</text>
<use href="#s" x="290.43" y="733.7"/>
<use href="#s" x="299.99" y="733.7"/>
<use href="#s" x="309.55" y="733.7"/>
<use href="#s" x="319.11" y="733.7"/>
<use href="#s" x="328.67" y="733.7"/>
<use href="#s" x="338.23" y="733.7"/>
<use href="#s" x="347.79" y="733.7"/>
<use href="#s" x="357.35" y="733.7"/>
<use href="#s" x="366.91" y="733.7"/>
<use href="#s" x="376.47" y="733.7"/>
<use href="#s" x="290.43" y="742.7"/>
<use href="#s" x="299.99" y="742.7"/>
<use href="#s" x="309.55" y="742.7"/>
<use href="#s" x="319.11" y="742.7"/>
<use href="#s" x="328.67" y="742.7"/>
<use href="#s" x="338.23" y="742.7"/>
<use href="#s" x="347.79" y="742.7"/>
<use href="#s" x="357.35" y="742.7"/>
<use href="#s" x="366.91" y="742.7"/>
<use href="#s" x="376.47" y="742.7"/>
<use href="#s" x="290.43" y="754.2"/>
<use href="#s" x="299.99" y="754.2"/>
<use href="#s" x="309.55" y="754.2"/>
<use href="#s" x="319.11" y="754.2"/>
<use href="#s" x="328.67" y="754.2"/>
<use href="#s" x="338.23" y="754.2"/>
<use href="#s" x="347.79" y="754.2"/>
<use href="#s" x="357.35" y="754.2"/>
<use href="#s" x="366.91" y="754.2"/>
<use href="#s" x="376.47" y="754.2"/>
<text class="lb" text-anchor="middle" transform="translate(337.8 783) scale(0.81 1)">(29)</text>
<use href="#s" x="402.55" y="737.5"/>
<use href="#s" x="412.11" y="737.5"/>
<use href="#s" x="421.67" y="737.5"/>
<use href="#s" x="431.23" y="737.5"/>
<use href="#s" x="440.79" y="737.5"/>
<use href="#s" x="450.35" y="737.5"/>
<use href="#s" x="459.91" y="737.5"/>
<use href="#s" x="469.47" y="737.5"/>
<use href="#s" x="479.03" y="737.5"/>
<use href="#s" x="488.59" y="737.5"/>
<use href="#s" x="498.15" y="737.5"/>
<use href="#s" x="416.89" y="748.8"/>
<use href="#s" x="426.45" y="748.8"/>
<use href="#s" x="436.01" y="748.8"/>
<use href="#s" x="445.57" y="748.8"/>
<use href="#s" x="455.13" y="748.8"/>
<use href="#s" x="464.69" y="748.8"/>
<use href="#s" x="474.25" y="748.8"/>
<use href="#s" x="483.81" y="748.8"/>
<text class="lb" text-anchor="middle" transform="translate(454.7 777.8) scale(0.81 1)">(17)</text>
<use href="#b" x="536.05" y="738.7"/>
<g transform="translate(557.25 738.7) scale(1.0104 0.9864)" clip-path="url(#pc)"><use href="#p" fill="#fff"/><rect x="-1" y="6.4" width="22" height="16.7" fill="#8e2233"/><use href="#p" fill="none" stroke="#8e2233" stroke-width="2"/></g>
<text class="lb" text-anchor="middle" transform="translate(556.4 778) scale(0.81 1)">(1,675)</text>
<use href="#s" x="610.83" y="733.5"/>
<use href="#s" x="620.39" y="733.5"/>
<use href="#s" x="629.95" y="733.5"/>
<use href="#s" x="639.51" y="733.5"/>
<use href="#s" x="649.07" y="733.5"/>
<use href="#s" x="658.63" y="733.5"/>
<use href="#s" x="668.19" y="733.5"/>
<use href="#s" x="677.75" y="733.5"/>
<use href="#s" x="687.31" y="733.5"/>
<use href="#s" x="696.87" y="733.5"/>
<use href="#s" x="610.83" y="742.6"/>
<use href="#s" x="620.39" y="742.6"/>
<use href="#s" x="629.95" y="742.6"/>
<use href="#s" x="639.51" y="742.6"/>
<use href="#s" x="649.07" y="742.6"/>
<use href="#s" x="658.63" y="742.6"/>
<use href="#s" x="668.19" y="742.6"/>
<use href="#s" x="677.75" y="742.6"/>
<use href="#s" x="687.31" y="742.6"/>
<use href="#s" x="696.87" y="742.6"/>
<use href="#s" x="615.61" y="753.7"/>
<use href="#s" x="625.17" y="753.7"/>
<use href="#s" x="634.73" y="753.7"/>
<use href="#s" x="644.29" y="753.7"/>
<use href="#s" x="653.85" y="753.7"/>
<use href="#s" x="663.41" y="753.7"/>
<use href="#s" x="672.97" y="753.7"/>
<use href="#s" x="682.53" y="753.7"/>
<use href="#s" x="692.09" y="753.7"/>
<text class="lb" text-anchor="middle" transform="translate(658.2 782.4) scale(0.81 1)">(29)</text>
<use href="#s" x="722.85" y="737.8"/>
<use href="#s" x="732.41" y="737.8"/>
<use href="#s" x="741.97" y="737.8"/>
<use href="#s" x="751.53" y="737.8"/>
<use href="#s" x="761.09" y="737.8"/>
<use href="#s" x="770.65" y="737.8"/>
<use href="#s" x="780.21" y="737.8"/>
<use href="#s" x="789.77" y="737.8"/>
<use href="#s" x="799.33" y="737.8"/>
<use href="#s" x="808.89" y="737.8"/>
<use href="#s" x="818.45" y="737.8"/>
<use href="#s" x="737.19" y="749"/>
<use href="#s" x="746.75" y="749"/>
<use href="#s" x="756.31" y="749"/>
<use href="#s" x="765.87" y="749"/>
<use href="#s" x="775.43" y="749"/>
<use href="#s" x="784.99" y="749"/>
<use href="#s" x="794.55" y="749"/>
<use href="#s" x="804.11" y="749"/>
<text class="lb" text-anchor="middle" transform="translate(775 777.7) scale(0.81 1)">(17)</text>
<text class="rl" x="28" y="823.55" textLength="143" lengthAdjust="spacingAndGlyphs">Centrum Medyczne w Łańcucie</text>
<text class="lb" text-anchor="middle" transform="translate(236.2 822.9) scale(0.95 1)">brak</text>
<use href="#s" x="290.43" y="801.9"/>
<use href="#s" x="299.99" y="801.9"/>
<use href="#s" x="309.55" y="801.9"/>
<use href="#s" x="319.11" y="801.9"/>
<use href="#s" x="328.67" y="801.9"/>
<use href="#s" x="338.23" y="801.9"/>
<use href="#s" x="347.79" y="801.9"/>
<use href="#s" x="357.35" y="801.9"/>
<use href="#s" x="366.91" y="801.9"/>
<use href="#s" x="376.47" y="801.9"/>
<use href="#s" x="309.55" y="810.6"/>
<use href="#s" x="319.11" y="810.6"/>
<use href="#s" x="328.67" y="810.6"/>
<use href="#s" x="338.23" y="810.6"/>
<use href="#s" x="347.79" y="810.6"/>
<use href="#s" x="357.35" y="810.6"/>
<text class="lb" text-anchor="middle" transform="translate(337.8 837) scale(0.81 1)">(16)</text>
<text class="lb" text-anchor="middle" transform="translate(556.4 822.9) scale(0.95 1)">brak</text>
<use href="#s" x="610.83" y="795"/>
<use href="#s" x="620.39" y="795"/>
<use href="#s" x="629.95" y="795"/>
<use href="#s" x="639.51" y="795"/>
<use href="#s" x="649.07" y="795"/>
<use href="#s" x="658.63" y="795"/>
<use href="#s" x="668.19" y="795"/>
<use href="#s" x="677.75" y="795"/>
<use href="#s" x="687.31" y="795"/>
<use href="#s" x="696.87" y="795"/>
<use href="#s" x="610.83" y="805.7"/>
<use href="#s" x="620.39" y="805.7"/>
<use href="#s" x="629.95" y="805.7"/>
<use href="#s" x="639.51" y="805.7"/>
<use href="#s" x="649.07" y="805.7"/>
<use href="#s" x="658.63" y="805.7"/>
<use href="#s" x="668.19" y="805.7"/>
<use href="#s" x="677.75" y="805.7"/>
<use href="#s" x="687.31" y="805.7"/>
<use href="#s" x="696.87" y="805.7"/>
<use href="#s" x="606.05" y="816.6"/>
<use href="#s" x="615.61" y="816.6"/>
<use href="#s" x="625.17" y="816.6"/>
<use href="#s" x="634.73" y="816.6"/>
<use href="#s" x="644.29" y="816.6"/>
<use href="#s" x="653.85" y="816.6"/>
<use href="#s" x="663.41" y="816.6"/>
<use href="#s" x="672.97" y="816.6"/>
<use href="#s" x="682.53" y="816.6"/>
<use href="#s" x="692.09" y="816.6"/>
<use href="#s" x="701.65" y="816.6"/>
<text class="lb" text-anchor="middle" transform="translate(658.2 842.9) scale(0.81 1)">(31)</text>
</svg></body></html>
